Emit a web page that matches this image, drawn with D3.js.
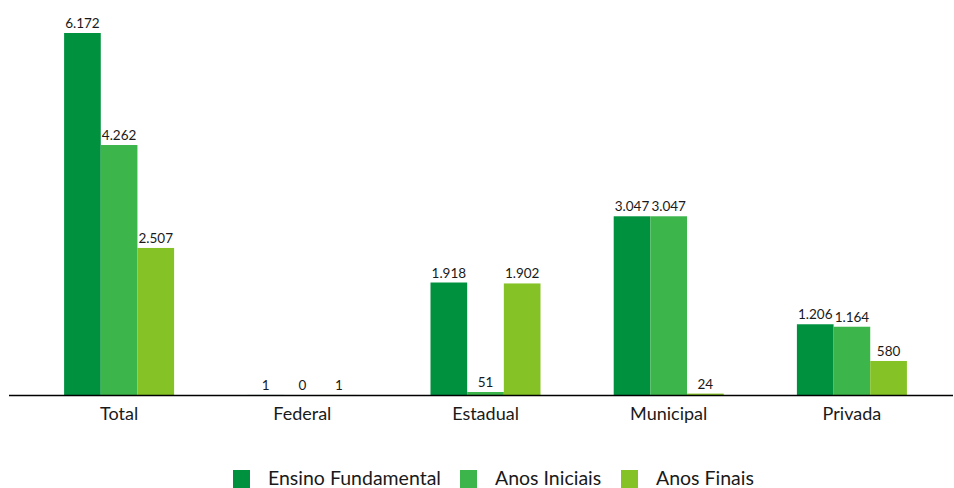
<!DOCTYPE html>
<html>
<head>
<meta charset="utf-8">
<script src="https://cdn.jsdelivr.net/npm/d3@7"></script>
<style>
  html, body { margin: 0; padding: 0; background: #fff; }
  svg { display: block; font-family: Lato, "Noto Sans", sans-serif; }
</style>
</head>
<body>
<svg id="chart" width="954" height="488"></svg>
<script>
const categories = ["Total", "Federal", "Estadual", "Municipal", "Privada"];
const seriesNames = ["Ensino Fundamental", "Anos Iniciais", "Anos Finais"];
const ensinoFundamental = [6172, 1, 1918, 3047, 1206];
const anosIniciais = [4262, 0, 51, 3047, 1164];
const anosFinais = [2507, 1, 1902, 24, 580];
const colors = ["#00913f", "#3cb54a", "#85c226"];

const seriesValues = [ensinoFundamental, anosIniciais, anosFinais];
const svg = d3.select("#chart");
const baseY = 395;

const locale = d3.formatLocale({decimal: ",", thousands: ".", grouping: [3], currency: ["R$", ""]});
const fmt = locale.format(",d");

const x0 = d3.scaleBand().domain(categories).range([27.5, 943.5]).paddingInner(0).paddingOuter(0);
const innerW = 110;
const x1 = d3.scaleBand().domain(seriesNames).range([0, innerW]);
const y = d3.scaleLinear().domain([0, 6172]).range([baseY, 33]);

const groups = svg.selectAll("g.grp").data(categories).join("g")
  .attr("class", "grp")
  .attr("transform", d => `translate(${x0(d) + x0.bandwidth() / 2 - innerW / 2},0)`);

groups.each(function(cat, ci) {
  const g = d3.select(this);
  seriesNames.forEach((s, si) => {
    const v = seriesValues[si][ci];
    g.append("rect")
      .attr("x", x1(s))
      .attr("y", y(v))
      .attr("width", x1.bandwidth())
      .attr("height", baseY - y(v))
      .attr("fill", colors[si]);
    g.append("text")
      .attr("x", x1(s) + x1.bandwidth() / 2)
      .attr("y", y(v) - 5)
      .attr("text-anchor", "middle")
      .attr("font-size", 13.5)
      .attr("fill", "#1a1a1a")
      .text(fmt(v));
  });
});

// baseline
svg.append("line")
  .attr("x1", 9).attr("x2", 953)
  .attr("y1", baseY + 0.5).attr("y2", baseY + 0.5)
  .attr("stroke", "#000").attr("stroke-width", 1.3);

// category axis labels
const xAxis = d3.axisBottom(x0).tickSize(0).tickPadding(0);
const axG = svg.append("g").attr("transform", `translate(0,${baseY})`).call(xAxis);
axG.select(".domain").remove();
axG.selectAll("text")
  .attr("y", 25).attr("dy", 0)
  .attr("font-size", 18).attr("fill", "#1a1a1a")
  .attr("font-family", "Lato, 'Noto Sans', sans-serif");

// legend
const legendX = [233, 460, 621];
const lg = svg.append("g");
seriesNames.forEach((s, i) => {
  lg.append("rect").attr("x", legendX[i]).attr("y", 470).attr("width", 17).attr("height", 18).attr("fill", colors[i]);
  lg.append("text").attr("x", legendX[i] + 35).attr("y", 485)
    .attr("font-size", 19.5).attr("fill", "#1a1a1a").text(s);
});
</script>
</body>
</html>
